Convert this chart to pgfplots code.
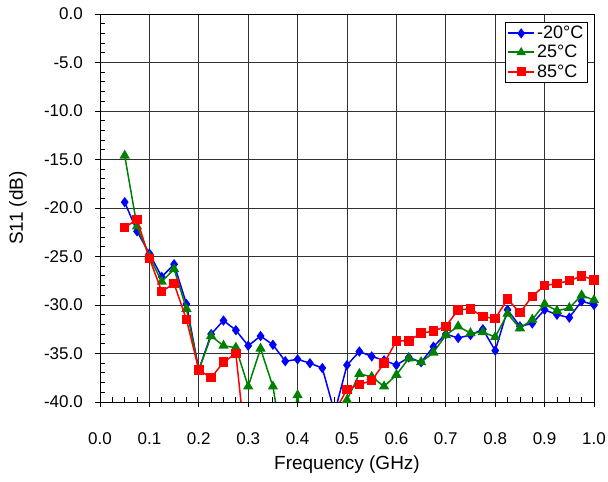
\documentclass[border=0pt]{standalone}
\usepackage{fontspec}
\setmainfont{Liberation Sans}
\usepackage{pgfplots}
\pgfplotsset{compat=1.18}
\usepackage{pgfplotstable}

\pgfplotstableread{
f      m20    p25    p85
0.050 -19.4 -14.6 -22.0
0.075 -22.4 -21.9 -21.2
0.100 -24.7 -25.0 -25.2
0.125 -27.1 -27.6 -28.6
0.150 -25.8 -26.3 -27.8
0.175 -29.9 -30.4 -31.5
0.200 -36.7 -36.7 -36.7
0.225 -33.0 -33.2 -37.5
0.250 -31.6 -34.2 -35.9
0.275 -32.6 -34.4 -35.0
0.300 -34.2 -38.4 -47.0
0.325 -33.2 -34.5 -45.0
0.350 -34.1 -38.4 -42.0
0.375 -35.8 -46.0 -40.6
0.400 -35.6 -39.3 -41.5
0.425 -36.0 -47.0 -43.0
0.450 -36.5 -50.0 -45.0
0.475 -41.1 -48.0 -41.0
0.500 -36.2 -39.8 -38.7
0.525 -34.8 -37.1 -38.2
0.550 -35.3 -37.4 -37.8
0.575 -35.7 -38.4 -36.0
0.600 -36.2 -37.2 -33.7
0.625 -35.4 -35.5 -33.7
0.650 -35.9 -35.9 -32.9
0.675 -34.3 -34.9 -32.7
0.700 -33.0 -33.1 -32.2
0.725 -33.4 -32.2 -30.5
0.750 -33.1 -32.9 -30.4
0.775 -32.5 -32.8 -31.2
0.800 -34.7 -33.3 -31.4
0.825 -30.5 -30.9 -29.4
0.850 -32.2 -32.4 -30.8
0.875 -31.9 -31.5 -29.1
0.900 -30.5 -29.9 -28.0
0.925 -31.0 -30.6 -27.8
0.950 -31.3 -30.3 -27.5
0.975 -29.6 -29.0 -27.0
1.000 -30.0 -29.5 -27.4
}\sparams

\begin{document}
\begin{tikzpicture}
\begin{axis}[
    scale only axis,
    width=494pt, height=388pt,
    xmin=0, xmax=1, ymin=-40, ymax=0,
    xtick={0,0.1,0.2,0.3,0.4,0.5,0.6,0.7,0.8,0.9,1.0},
    ytick={-40,-35,-30,-25,-20,-15,-10,-5,0},
    minor x tick num=3,
    minor y tick num=4,
    tick pos=left,
    tick align=outside,
    major tick length=5pt,
    minor tick length=-5pt,
    every tick/.style={black, line width=0.8pt},
    grid=major,
    major grid style={black!80, line width=0.9pt},
    axis line style={black, line width=0.9pt},
    clip mode=individual,
    /pgf/number format/.cd, fixed, fixed zerofill, precision=1, assume math mode=true,
    /pgfplots/.cd,
    tick label style={font=\fontsize{17}{17}\selectfont, inner sep=0pt},
    xticklabel style={anchor=north, yshift=-25pt},
    yticklabel style={anchor=east, xshift=-12pt},
    xlabel={Frequency (GHz)},
    ylabel={S11 (dB)},
    label style={font=\fontsize{19}{19}\selectfont},
    xlabel style={at={(axis description cs:0.5,-0.162)}, anchor=center},
    ylabel style={at={(axis description cs:-0.166,0.5)}, anchor=center},
    legend style={at={(axis description cs:0.987,0.979)}, anchor=north east,
        draw=black, fill=white,
        font=\fontsize{18}{18}\selectfont, row sep=1pt, inner sep=2pt},
    legend cell align=left,
    legend image code/.code={
        \draw[line width=2pt, mark repeat=2, mark phase=2, mark size=3.5pt]
            plot coordinates {(0pt,0pt) (13pt,0pt) (26pt,0pt)};},
]
\addplot[blue, line width=1.5pt, mark=diamond*, mark size=4pt, mark options={solid}]
    table[x=f, y=m20] {\sparams};
\addlegendentry{-20°C}
\addplot[green!50!black, line width=1.5pt, mark=triangle*, mark size=4.5pt, mark options={solid}]
    table[x=f, y=p25] {\sparams};
\addlegendentry{25°C}
\addplot[red, line width=1.5pt, mark=square*, mark size=4pt, mark options={solid}]
    table[x=f, y=p85] {\sparams};
\addlegendentry{85°C}
\coordinate (sw) at (rel axis cs:0,0);
\coordinate (ne) at (rel axis cs:1,1);
\end{axis}
\pgfresetboundingbox
\path ([shift={(-100pt,-80pt)}]sw) rectangle ([shift={(14pt,14pt)}]ne);
\end{tikzpicture}
\end{document}
